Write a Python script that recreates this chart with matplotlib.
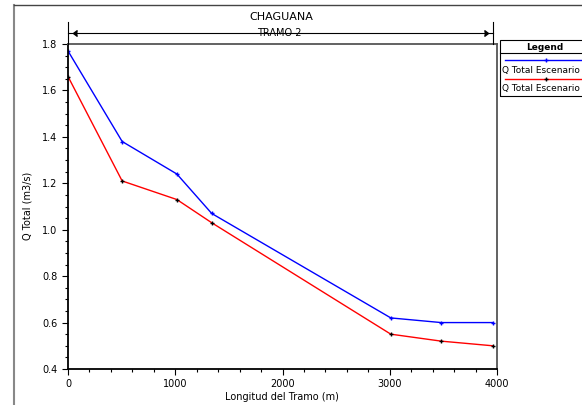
import matplotlib.pyplot as plt
from matplotlib.ticker import MultipleLocator
from matplotlib.patches import Rectangle
from matplotlib.lines import Line2D

# Longitud del tramo (m)
longitud = [0, 505, 1015, 1340, 3010, 3480, 3960]
# Caudal total (m3/s)
q_blue = [1.77, 1.38, 1.24, 1.07, 0.62, 0.60, 0.60]
q_red = [1.66, 1.21, 1.13, 1.03, 0.55, 0.52, 0.50]

W, H = 582, 405
fig = plt.figure(figsize=(W / 100, H / 100), dpi=100)

def fx(px):
    return px / W

def fy(py):
    return 1 - py / H

# plot area: x 68..497, y 44..369 px
ax = fig.add_axes([fx(68), fy(369), fx(497 - 68), (369 - 44) / H])
ax.plot(longitud, q_blue, color='blue', lw=1.0, marker='+', ms=3, mec='blue', mew=1)
ax.plot(longitud, q_red, color='red', lw=1.0, marker='+', ms=3, mec='black', mew=1)

ax.set_xlim(0, 4000)
ax.set_ylim(0.4, 1.8)
ax.xaxis.set_major_locator(MultipleLocator(1000))
ax.xaxis.set_minor_locator(MultipleLocator(200))
ax.yaxis.set_major_locator(MultipleLocator(0.2))
ax.yaxis.set_minor_locator(MultipleLocator(0.05))
ax.tick_params(which='both', direction='out', labelsize=7, colors='black', width=0.8)
ax.tick_params(which='major', length=4)
ax.tick_params(which='minor', length=2)
ax.set_yticklabels([f'{v:.1f}' for v in ax.get_yticks()])
for side in ['left', 'bottom']:
    ax.spines[side].set_linewidth(1.3)
for side in ['top', 'right']:
    ax.spines[side].set_color('#555555')
    ax.spines[side].set_linewidth(1.3)

# axis labels
fig.text(fx(282), fy(397), 'Longitud del Tramo (m)', ha='center', va='center', fontsize=7)
fig.text(fx(28), fy(206), 'Q Total (m3/s)', ha='center', va='center', fontsize=7, rotation=90)

# outer frame
fig.add_artist(Line2D([fx(14), fx(14)], [fy(5), 0], color='#888888', lw=1.5))
fig.add_artist(Line2D([fx(14), 1], [fy(5), fy(5)], color='#444444', lw=1.0))

# title and reach annotation
fig.text(fx(281), fy(17), 'CHAGUANA', ha='center', va='center', fontsize=8)
x0 = ax.transData.transform((0, 1.8))[0] / W
x1 = ax.transData.transform((3960, 1.8))[0] / W
fig.add_artist(Line2D([x0, x0], [fy(22), fy(44)], color='black', lw=0.8))
fig.add_artist(Line2D([x1, x1], [fy(22), fy(44)], color='black', lw=0.8))
fig.add_artist(Line2D([x0, x1], [fy(33), fy(33)], color='black', lw=0.8))
fig.add_artist(Line2D([x0 + 0.008], [fy(33)], marker=4, color='black', ms=4, ls=''))
fig.add_artist(Line2D([x1 - 0.008], [fy(33)], marker=5, color='black', ms=4, ls=''))
fig.text(fx(279), fy(33), 'TRAMO 2', ha='center', va='center', fontsize=7)

# legend box
fig.add_artist(Rectangle((fx(500), fy(96)), fx(90), (96 - 40) / H, fill=False,
                         ec='black', lw=0.8, transform=fig.transFigure))
fig.add_artist(Line2D([fx(500), 1], [fy(53), fy(53)], color='black', lw=0.8))
fig.text(fx(545), fy(47), 'Legend', ha='center', va='center', fontsize=6.5, weight='bold')
fig.add_artist(Line2D([fx(505), 1], [fy(60), fy(60)], color='blue', lw=1))
fig.add_artist(Line2D([fx(546)], [fy(60)], color='blue', marker='+', ms=3, ls=''))
fig.text(fx(502), fy(70), 'Q Total Escenario', ha='left', va='center', fontsize=6.5)
fig.add_artist(Line2D([fx(505), 1], [fy(79), fy(79)], color='red', lw=1))
fig.add_artist(Line2D([fx(546)], [fy(79)], color='black', marker='+', ms=3, ls=''))
fig.text(fx(502), fy(88), 'Q Total Escenario', ha='left', va='center', fontsize=6.5)

fig.savefig('out.png', dpi=100)
